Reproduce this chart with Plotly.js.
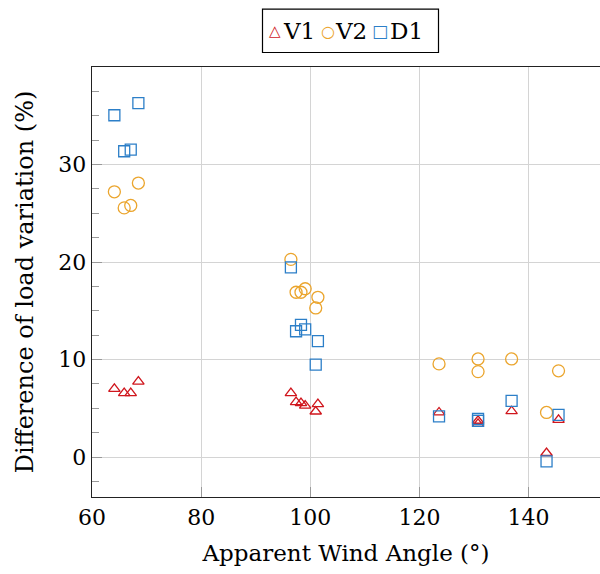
<!DOCTYPE html>
<html>
<head>
<meta charset="utf-8">
<script src="https://cdn.plot.ly/plotly-3.0.1.min.js"></script>
<style>html,body{margin:0;padding:0;background:#fff;}</style>
</head>
<body>
<div id="chart" style="width:600px;height:574px;"></div>
<script>
const xAngle = [64.1, 65.9, 67.1, 68.5, 96.45, 97.4, 98.3, 99.07, 101.4, 101.0, 123.6, 130.75, 130.75, 136.9, 143.3, 145.5];
const v1 = [6.99, 6.55, 6.55, 7.74, 6.55, 5.63, 5.53, 5.28, 5.43, 4.67, 4.57, 3.72, 3.4, 4.7, 0.41, 3.82];
const v2 = [27.2, 25.55, 25.8, 28.1, 20.27, 16.9, 16.9, 17.26, 16.38, 15.29, 9.55, 10.06, 8.76, 10.06, 4.57, 8.84];
const d1 = [35.05, 31.36, 31.53, 36.3, 19.45, 12.9, 13.55, 13.1, 11.88, 9.48, 4.16, 3.9, 3.7, 5.76, -0.45, 4.33];
const seriesNames = ['V1', 'V2', 'D1'];
const seriesColors = ['#d0161d', '#eba52d', '#2c7fc8'];
const legendGlyphs = ['\u25B3', '\u25CB', '\u25A1'];

const font = "'DejaVu Serif', serif";
const traces = [
  {x: xAngle, y: v1, name: seriesNames[0], mode: 'markers', type: 'scatter',
   marker: {symbol: 'triangle-up-open', size: 10, color: seriesColors[0], line: {width: 1.3}}},
  {x: xAngle, y: v2, name: seriesNames[1], mode: 'markers', type: 'scatter',
   marker: {symbol: 'circle-open', size: 12, color: seriesColors[1], line: {width: 1.3}}},
  {x: xAngle, y: d1, name: seriesNames[2], mode: 'markers', type: 'scatter',
   marker: {symbol: 'square-open', size: 11, color: seriesColors[2], line: {width: 1.3}}}
];

// Legend drawn as a boxed row (paper coordinates: plot spans x 92..600px, y 67..497.4px)
const W = 508, H = 430.4, L = 92, B = 497.4;
const px = v => (v - L) / W;
const py = v => (B - v) / H;
const glyphX = [275, 327.5, 380];
const textX = [299, 351, 406];
const glyphSize = [15, 16, 17];
const annotations = [];
seriesNames.forEach((n, i) => {
  annotations.push({xref: 'paper', yref: 'paper', x: px(glyphX[i]), y: py(31), xanchor: 'center', yanchor: 'middle',
    text: legendGlyphs[i], showarrow: false, font: {family: "'DejaVu Sans', sans-serif", size: glyphSize[i], color: seriesColors[i]}});
  annotations.push({xref: 'paper', yref: 'paper', x: px(textX[i]), y: py(31), xanchor: 'center', yanchor: 'middle',
    text: n, showarrow: false, font: {family: font, size: 23, color: '#000'}});
});

const layout = {
  width: 600, height: 574,
  margin: {l: 92, r: 0, t: 67, b: 77},
  paper_bgcolor: '#fff', plot_bgcolor: '#fff',
  font: {family: font, size: 22, color: '#000'},
  showlegend: false,
  annotations: annotations,
  shapes: [{type: 'rect', xref: 'paper', yref: 'paper', x0: px(262.5), x1: px(438.5), y0: py(9), y1: py(52.5),
            line: {color: '#000', width: 1.2}, fillcolor: 'rgba(0,0,0,0)'}],
  xaxis: {
    range: [60, 153.1], tickvals: [60, 80, 100, 120, 140],
    showgrid: true, gridcolor: '#d4d4d4', gridwidth: 1,
    zeroline: false, showline: true, linecolor: '#222', linewidth: 1.3, mirror: true,
    ticks: 'inside', ticklen: 10, tickcolor: '#999', tickwidth: 1,
    tickfont: {size: 22},
    title: {text: 'Apparent Wind Angle (°)', font: {size: 23}, standoff: 16}
  },
  yaxis: {
    range: [-4.1, 40], tickvals: [0, 10, 20, 30],
    showgrid: true, gridcolor: '#d4d4d4', gridwidth: 1,
    zeroline: false, showline: true, linecolor: '#222', linewidth: 1.3,
    ticks: 'inside', ticklen: 10, tickcolor: '#999', tickwidth: 1,
    minor: {dtick: 2.5, ticks: 'inside', ticklen: 7, tickcolor: '#999', showgrid: false},
    tickfont: {size: 22},
    title: {text: 'Difference of load variation (%)', font: {size: 24}, standoff: 18}
  }
};

Plotly.newPlot('chart', traces, layout, {displayModeBar: false, staticPlot: true});
</script>
</body>
</html>
